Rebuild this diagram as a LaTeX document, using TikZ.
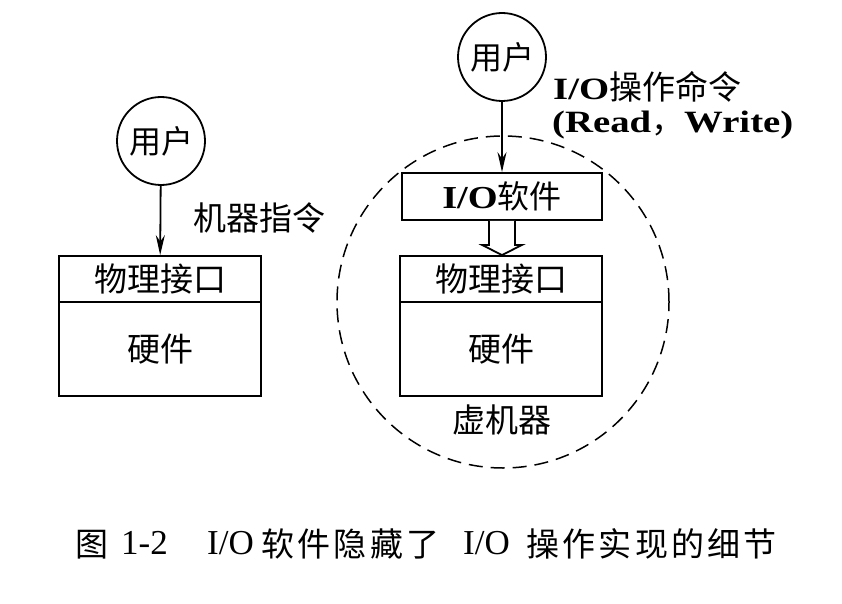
\documentclass[tikz,border=0pt]{standalone}
\usepackage{fontspec}
\setmainfont{Liberation Serif}
\newfontfamily\cjk{Noto Sans CJK SC}
\newfontfamily\cjkcap{Noto Sans CJK SC}[LetterSpace=10]
\newfontfamily\latwide{Liberation Serif}[FakeStretch=1.25]
\newfontfamily\latbox{Liberation Serif}[FakeStretch=1.2]
\usetikzlibrary{arrows.meta,calc}
\begin{document}
\begin{tikzpicture}[x=1pt,y=-1pt,
  lw/.style={line width=1.8pt},
  usercirc/.style={draw,lw,circle,minimum size=88pt,inner sep=0pt,font=\fontsize{32}{34}\selectfont\cjk},
  boxnode/.style={draw,lw,rectangle,inner sep=0pt,minimum width=202pt,font=\fontsize{33}{35}\selectfont\cjk},
  lbl/.style={inner sep=0pt,font=\fontsize{33}{35}\selectfont\cjk},
  cmd/.style={inner sep=0pt,anchor=base west,font=\fontsize{31}{33}\selectfont},
  capcjk/.style={inner sep=0pt,anchor=base west,font=\fontsize{33}{35}\selectfont\cjkcap},
  caplat/.style={inner sep=0pt,anchor=base west,font=\fontsize{35}{37}\selectfont},
  arr/.style={lw,-{Stealth[length=20pt,width=9pt]}},
]
\useasboundingbox (0,0) rectangle (842,604);
% left part
\node[usercirc] (u1) at (161,141) {用户};
\node[boxnode,minimum height=46pt] (p1) at (160,279) {物理接口};
\node[boxnode,minimum height=94pt] (h1) at (160,349) {硬件};
\node[lbl,anchor=center] (m1) at (259,218) {机器指令};
\draw[arr] (u1) -- (p1);
% right part
\node[draw,dashed,line width=1.5pt,dash pattern=on 14pt off 8pt,circle,minimum size=332pt,inner sep=0pt] (vm) at (503,302) {};
\node[usercirc] (u2) at (502,57) {用户};
\node[boxnode,minimum width=200pt,minimum height=47pt,font=\fontsize{32}{34}\selectfont] (io) at (502,196.5) {{\latbox\bfseries I/O}{\cjk 软件}};
\node[boxnode,minimum height=46pt] (p2) at (501,279) {物理接口};
\node[boxnode,minimum height=94pt] (h2) at (501,349) {硬件};
\node[lbl] (vmt) at (502,420) {虚机器};
\node[cmd] (c1) at (553,100) {{\latwide\bfseries I/O}{\fontsize{33}{35}\selectfont\cjk 操作命令}};
\node[cmd] (c2) at (552,133) {{\latwide\bfseries (Read}{\fontsize{33}{35}\selectfont\cjk ，}{\latwide\bfseries Write)}};
\draw[arr] (u2) -- (io);
% hollow arrow
\draw[lw,fill=white,line join=miter] ($(io.south)+(-13,0)$) -- ++(0,24) -- ++(-7,0) -- ($(p2.north)+(1,0)$) -- ($(io.south)+(20,24)$) -- ++(-7,0) -- ($(io.south)+(13,0)$);
% caption
\node[capcjk] (k1) at (75,556) {图};
\node[caplat] (k2) at (121,554) {1-2};
\node[caplat] (k3) at (207,554) {I/O};
\node[capcjk] (k4) at (261,556) {软件隐藏了};
\node[caplat] (k5) at (463,554) {I/O};
\node[capcjk] (k6) at (526,556) {操作实现的细节};
\end{tikzpicture}
\end{document}
